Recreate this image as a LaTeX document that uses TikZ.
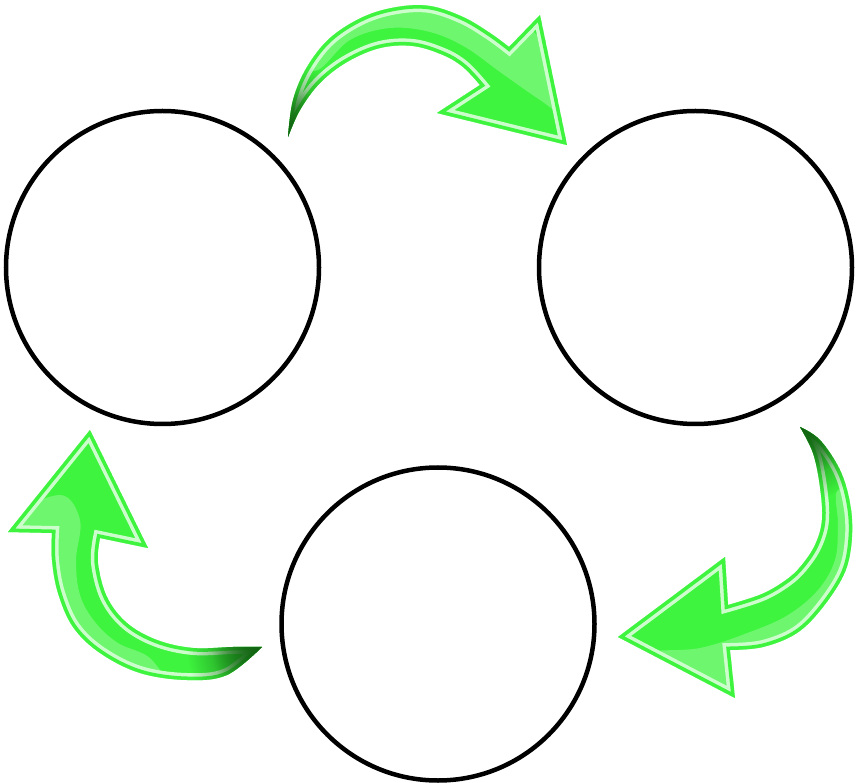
\documentclass[tikz,border=0pt]{standalone}
\usetikzlibrary{fadings}
\definecolor{arrgreen}{RGB}{62,244,62}
\definecolor{arrpale}{RGB}{205,252,205}
\definecolor{arrdark}{RGB}{18,100,18}
\tikzfading[name=softspot, inner color=transparent!0, outer color=transparent!100]
\begin{document}
\begin{tikzpicture}[x=1pt,y=-1pt,
  ring/.style={draw=black, line width=4.5pt, circle, minimum size=313pt, inner sep=0pt},
  palerim/.style={draw=arrpale, line width=14pt, line join=miter, miter limit=20},
  greenrim/.style={draw=arrgreen, line width=7pt, line join=miter, miter limit=20},
  gloss/.style={fill=white, opacity=0.25},
  tailshade/.style={fill=arrdark, path fading=softspot}]
\useasboundingbox (0,0) rectangle (857,783);
\node[ring] (c1) at (162.5,267.5) {};
\node[ring] (c2) at (695.5,267.5) {};
\node[ring] (c3) at (438,624) {};

% top arrow
\def\arrowA{(288,137) -- plot[smooth, tension=0.6] coordinates {(288,137) (293,100) (307,67) (330,38) (363,17) (397,7) (430,6) (463,17) (490,33) (509,47)}
  -- (540,15) -- (567,145) -- (437,113) -- (480,85)
  -- plot[smooth, tension=0.6] coordinates {(480,85) (463,67) (443,55) (413,46) (380,48) (347,62) (320,83) (300,110) (288,137)} -- cycle}
\begin{scope}
  \clip \arrowA;
  \fill[arrgreen] \arrowA;
  \fill[gloss] plot[smooth cycle, tension=0.6] coordinates {(300,60) (340,15) (400,-10) (460,-5) (525,25) (575,80) (580,125) (540,100) (500,72) (465,47) (430,32) (390,28) (350,40) (318,70)};
  \path[palerim] \arrowA;
  \path[greenrim] \arrowA;
  \path[tailshade] (288,137) circle (75pt);
  \path[tailshade] (288,137) circle (50pt);
\end{scope}

% right arrow
\def\arrowB{(800,427) -- plot[smooth, tension=0.6] coordinates {(800,427) (820,440) (840,470) (850,503) (852,537) (845,572) (823,607) (797,633) (763,647) (730,650)}
  -- (735,698) -- (618,637) -- (725,557) -- (728,605)
  -- plot[smooth, tension=0.6] coordinates {(728,605) (762,594) (786,580) (801,566) (815,545) (822,520) (820,487) (813,453) (800,427)} -- cycle}
\begin{scope}
  \clip \arrowB;
  \fill[arrgreen] \arrowB;
  \fill[gloss] plot[smooth cycle, tension=0.6] coordinates {(838,490) (870,500) (872,600) (830,665) (760,705) (650,690) (640,655) (700,648) (750,632) (788,615) (818,590) (835,560) (838,525)};
  \path[palerim] \arrowB;
  \path[greenrim] \arrowB;
  \path[tailshade] (800,427) circle (75pt);
  \path[tailshade] (800,427) circle (50pt);
\end{scope}

% left arrow
\def\arrowC{(262,647) -- plot[smooth, tension=0.6] coordinates {(262,647) (227,675) (187,680) (140,673) (100,653) (73,627) (58,593) (52,560) (52,533)}
  -- (8,532) -- (90,430) -- (148,548) -- (100,538)
  -- plot[smooth, tension=0.6] coordinates {(100,538) (98,563) (107,597) (127,623) (157,640) (193,648) (233,647) (262,647)} -- cycle}
\begin{scope}
  \clip \arrowC;
  \fill[arrgreen] \arrowC;
  \fill[gloss] plot[smooth cycle, tension=0.6] coordinates {(60,495) (80,520) (76,560) (80,595) (95,622) (118,643) (152,660) (170,700) (100,695) (40,645) (25,580) (15,520)};
  \path[palerim] \arrowC;
  \path[greenrim] \arrowC;
  \path[tailshade] (262,650) circle (75pt);
  \path[tailshade] (262,650) circle (50pt);
\end{scope}
\end{tikzpicture}
\end{document}
